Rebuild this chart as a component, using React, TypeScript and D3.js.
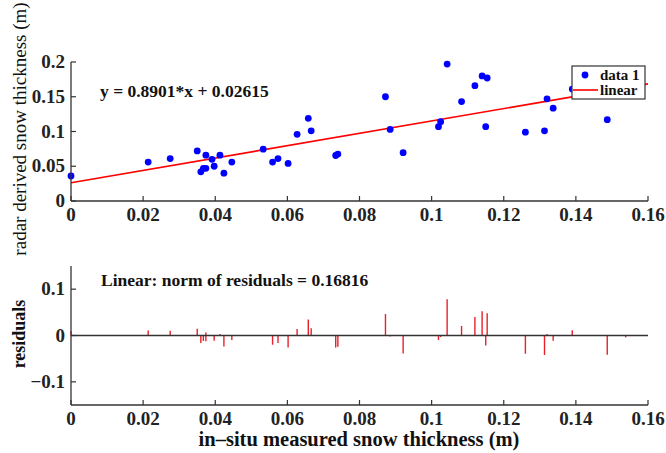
import React from "react";
import * as d3 from "d3";

const xMeasured = [0, 0.0214, 0.0275, 0.035, 0.036, 0.0367, 0.0374, 0.0374, 0.0391, 0.0397, 0.0413, 0.0424, 0.0446, 0.0533, 0.0559, 0.0574, 0.0602, 0.0627, 0.0658, 0.0666, 0.0734, 0.074, 0.0872, 0.0885, 0.0921, 0.1019, 0.1025, 0.1043, 0.1083, 0.112, 0.114, 0.1154, 0.115, 0.126, 0.1313, 0.132, 0.1337, 0.139, 0.1487, 0.1538];
const yRadar = [0.036, 0.056, 0.061, 0.072, 0.042, 0.047, 0.047, 0.066, 0.060, 0.050, 0.066, 0.040, 0.056, 0.0746, 0.056, 0.061, 0.054, 0.096, 0.119, 0.101, 0.0655, 0.0675, 0.150, 0.103, 0.0695, 0.107, 0.114, 0.197, 0.143, 0.166, 0.180, 0.177, 0.107, 0.099, 0.101, 0.147, 0.1336, 0.161, 0.117, 0.159];
const slope = 0.8901;
const intercept = 0.02615;
const xTicks = [0, 0.02, 0.04, 0.06, 0.08, 0.1, 0.12, 0.14, 0.16];
const xTickLabels = ["0", "0.02", "0.04", "0.06", "0.08", "0.1", "0.12", "0.14", "0.16"];
const yTopTicks = [0, 0.05, 0.1, 0.15, 0.2];
const yTopTickLabels = ["0", "0.05", "0.1", "0.15", "0.2"];
const yResTicks = [-0.1, 0, 0.1];
const yResTickLabels = ["\u22120.1", "0", "0.1"];

const FONT = "'Liberation Serif', 'Times New Roman', serif";
const AX = "#333";

export default function App() {
  const x = d3.scaleLinear().domain([0, 0.16]).range([71, 648]);
  const yTop = d3.scaleLinear().domain([0, 0.2]).range([201, 62]);
  const yRes = d3.scaleLinear().domain([-0.15, 0.15]).range([405, 266]);
  const fit = (v: number) => slope * v + intercept;
  const line = d3.line<number>().x((d) => x(d)).y((d) => yTop(fit(d)));
  const residuals = xMeasured.map((v, i) => yRadar[i] - fit(v));
  const tickLen = 5;
  const TF = 19;

  return (
    <svg width={666} height={453} style={{ position: "absolute", left: 0, top: 0, background: "#fff" }} fontFamily={FONT}>
      {/* top plot */}
      <path d={line([0, 0.16]) || ""} stroke="#ff0000" strokeWidth={1.6} fill="none" />
      {xMeasured.map((v, i) => (
        <circle key={i} cx={x(v)} cy={yTop(yRadar[i])} r={3.4} fill="#0000ff" />
      ))}
      <line x1={71} x2={648} y1={201} y2={201} stroke={AX} strokeWidth={1.3} />
      <line x1={71} x2={71} y1={62} y2={201} stroke={AX} strokeWidth={1.3} />
      {xTicks.map((t, i) => (
        <g key={i}>
          <line x1={x(t)} x2={x(t)} y1={201} y2={201 - tickLen} stroke={AX} strokeWidth={1.2} />
          <text x={x(t)} y={221} textAnchor="middle" fontSize={TF} fontWeight="bold" fill="#222">{xTickLabels[i]}</text>
        </g>
      ))}
      {yTopTicks.map((t, i) => (
        <g key={i}>
          <line x1={71} x2={71 + tickLen} y1={yTop(t)} y2={yTop(t)} stroke={AX} strokeWidth={1.2} />
          <text x={65} y={yTop(t) + 6} textAnchor="end" fontSize={TF} fontWeight="bold" fill="#222">{yTopTickLabels[i]}</text>
        </g>
      ))}
      <text x={100} y={97} fontSize={17.5} fontWeight="bold" fill="#111">y = 0.8901*x + 0.02615</text>
      {/* legend */}
      <rect x={572} y={66} width={73} height={33} fill="#fff" stroke={AX} strokeWidth={1.2} />
      <circle cx={585} cy={75} r={3.4} fill="#0000ff" />
      <line x1={573} x2={598} y1={90} y2={90} stroke="#ff0000" strokeWidth={1.6} />
      <text x={600} y={80} fontSize={15} fontWeight="bold" fill="#111">data 1</text>
      <text x={600} y={95} fontSize={15} fontWeight="bold" fill="#111">linear</text>
      <text transform={`translate(26,129) rotate(-90)`} textAnchor="middle" fontSize={19} fill="#111">radar derived snow thickness (m)</text>

      {/* residual plot */}
      {xMeasured.map((v, i) => (
        <line key={i} x1={x(v)} x2={x(v)} y1={yRes(0)} y2={yRes(residuals[i])} stroke="#e8202a" strokeWidth={1.4} />
      ))}
      <line x1={71} x2={648} y1={yRes(0)} y2={yRes(0)} stroke={AX} strokeWidth={1.3} />
      <line x1={71} x2={648} y1={405} y2={405} stroke={AX} strokeWidth={1.3} />
      <line x1={71} x2={71} y1={266} y2={405} stroke={AX} strokeWidth={1.3} />
      {xTicks.map((t, i) => (
        <g key={i}>
          <line x1={x(t)} x2={x(t)} y1={405} y2={405 - tickLen} stroke={AX} strokeWidth={1.2} />
          <text x={x(t)} y={425} textAnchor="middle" fontSize={TF} fontWeight="bold" fill="#222">{xTickLabels[i]}</text>
        </g>
      ))}
      {yResTicks.map((t, i) => (
        <g key={i}>
          <line x1={71} x2={71 + tickLen} y1={yRes(t)} y2={yRes(t)} stroke={AX} strokeWidth={1.2} />
          <text x={65} y={yRes(t) + 6} textAnchor="end" fontSize={TF} fontWeight="bold" fill="#222">{yResTickLabels[i]}</text>
        </g>
      ))}
      <text x={101} y={286} fontSize={17.5} fontWeight="bold" fill="#111">Linear: norm of residuals = 0.16816</text>
      <text transform={`translate(25,334) rotate(-90)`} textAnchor="middle" fontSize={18} fontWeight="bold" fill="#111">residuals</text>
      <text x={359} y={446} textAnchor="middle" fontSize={20.5} fontWeight="bold" fill="#111">in–situ measured snow thickness (m)</text>
    </svg>
  );
}
